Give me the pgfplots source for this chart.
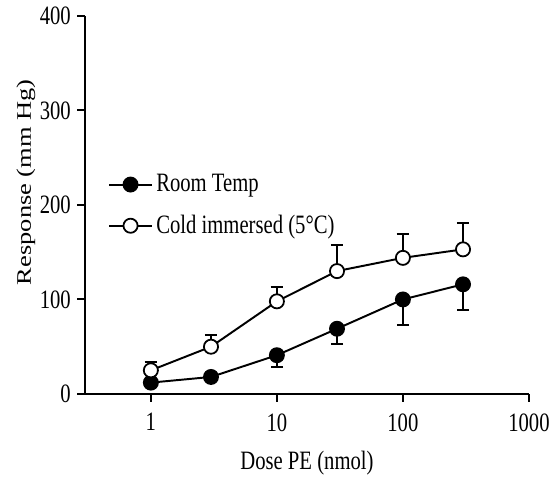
\documentclass[border=0pt]{standalone}
\usepackage{fontspec}
\setmainfont{Liberation Serif}[FakeStretch=0.78]
\newfontfamily\ylabfont{Liberation Serif}[FakeStretch=1.28]
\usepackage{pgfplots}
\pgfplotsset{compat=1.18}

\begin{document}
\begin{tikzpicture}
\begin{axis}[
    at={(0,0)}, anchor=south west,
    scale only axis,
    width=251.3pt, height=214pt,
    xmode=log,
    xmin=0.3, xmax=1000,
    ymin=0, ymax=400,
    axis lines=left,
    axis line style={-, line width=1.1pt},
    every tick/.style={line width=1.1pt, black},
    tick align=outside,
    major tick length=4.5pt,
    xtick={1,10,100,1000},
    xticklabels={1,10,100,1000},
    xticklabel style={yshift=-3pt},
    xminorticks=false,
    ytick={0,100,200,300,400},
    font=\fontsize{15}{17}\selectfont,
    /pgf/number format/assume math mode=true,
    xlabel={Dose PE (nmol)},
    ylabel={Response (mm Hg)},
    xlabel style={at={(axis description cs:0.5,0)}, anchor=center, yshift=-39pt},
    ylabel style={at={(axis description cs:0,0.56)}, anchor=center, yshift=33.4pt,
        font=\ylabfont\fontsize{11.7}{14}\selectfont},
    legend style={at={(rel axis cs:0.04,0.6)}, anchor=north west,
        draw=none, fill=none, row sep=7.7pt, font=\fontsize{15}{17}\selectfont},
    legend cell align=left,
    legend image code/.code={
        \draw[mark repeat=2, mark phase=2, #1]
        plot coordinates {(0cm,0cm) (12pt,0cm) (24pt,0cm)};},
]
\addplot[black, line width=1.1pt, mark=*, mark size=4pt,
    mark options={fill=black, line width=1pt},
    error bars/.cd, y dir=minus, y explicit,
    error bar style={line width=1.1pt},
    error mark options={rotate=90, mark size=3.5pt, line width=1.1pt}]
coordinates {
    (1,12) -= (0,0)
    (3,18) -= (0,0)
    (10,41) -= (0,12)
    (30,69) -= (0,16)
    (100,100) -= (0,27)
    (300,116) -= (0,27)
};
\addlegendentry{Room Temp}

\addplot[black, line width=1.1pt, mark=*, mark size=4pt,
    mark options={fill=white, line width=1pt},
    error bars/.cd, y dir=plus, y explicit,
    error bar style={line width=1.1pt},
    error mark options={rotate=90, mark size=3.5pt, line width=1.1pt}]
coordinates {
    (1,25) += (0,9)
    (3,50) += (0,12)
    (10,98) += (0,15)
    (30,130) += (0,28)
    (100,144) += (0,25)
    (300,153) += (0,28)
};
\addlegendentry{Cold immersed (5°C)}
\end{axis}
\pgfresetboundingbox
\path (-48.1pt,-50.4pt) rectangle (263.8pt,223pt);
\end{tikzpicture}
\end{document}
